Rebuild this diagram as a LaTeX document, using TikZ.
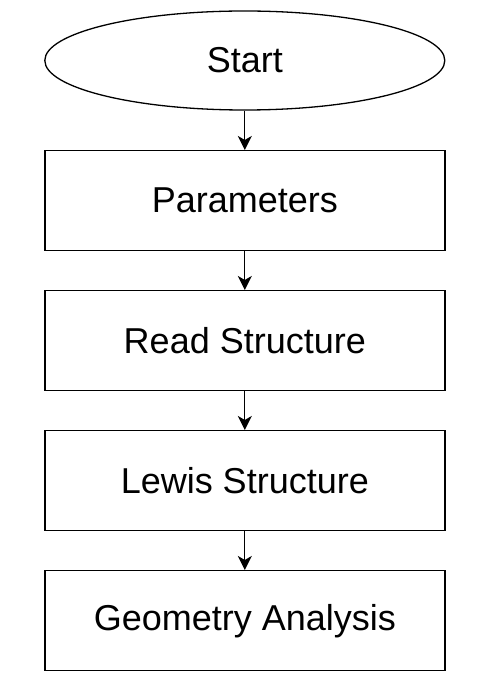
\documentclass[tikz,border=0pt]{standalone}
\usepackage{fontspec}
\setmainfont{Liberation Sans}
\usetikzlibrary{shapes.geometric,arrows.meta}
\begin{document}
\begin{tikzpicture}[x=1pt,y=-1pt,
  every node/.style={font=\fontsize{36}{43}\selectfont, text=black},
  stepbox/.style={draw=black, line width=1.5pt, minimum width=400pt, minimum height=100pt, inner sep=0pt},
  startnode/.style={ellipse, draw=black, line width=1.3pt, minimum width=400pt, minimum height=99pt, inner sep=0pt},
  conn/.style={draw=black, line width=1.3pt, -{Stealth[length=14pt,width=14pt,inset=4pt]}}]
\useasboundingbox[fill=white] (0,0) rectangle (488,700);
\node[startnode] (start) at (244.8,60.5) {Start};
\node[stepbox] (p) at (244.8,200.7) {Parameters};
\node[stepbox] (r) at (244.8,340.7) {Read Structure};
\node[stepbox] (l) at (244.8,480.7) {Lewis Structure};
\node[stepbox] (g) at (244.8,620.7) {Geometry Analysis};
\draw[conn] (start) -- (p);
\draw[conn] (p) -- (r);
\draw[conn] (r) -- (l);
\draw[conn] (l) -- (g);
\end{tikzpicture}
\end{document}
